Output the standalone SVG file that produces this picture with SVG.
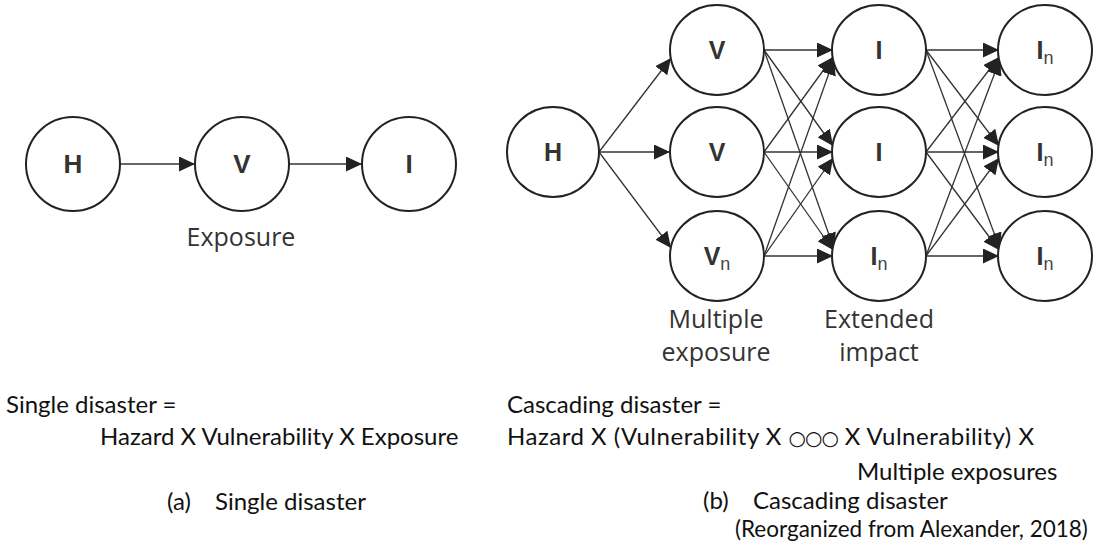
<svg xmlns="http://www.w3.org/2000/svg" width="1097" height="545" viewBox="0 0 1097 545">
  <style>
    .node { fill: #ffffff; stroke: #222222; stroke-width: 2; }
    .edge { stroke: #333333; stroke-width: 1.3; fill: none; marker-end: url(#arrow); }
    .sym { font-family: "Liberation Sans", Arial, sans-serif; font-weight: bold; font-size: 25px; fill: #333333; text-anchor: middle; }
    .big { font-size: 26px; }
    .sub { font-weight: normal; font-size: 18px; fill: #444444; }
    .lbl { font-family: "Open Sans", "Noto Sans", sans-serif; font-size: 25px; fill: #333333; text-anchor: middle; }
    .eq { font-family: Lato, "Liberation Sans", sans-serif; font-size: 24px; fill: #111111; }
    .note { font-family: Lato, "Liberation Sans", sans-serif; font-size: 22.5px; fill: #111111; }
    .ring { font-family: "DejaVu Sans", sans-serif; font-size: 20px; letter-spacing: -1.5px; }
  </style>
  <defs>
    <marker id="arrow" markerUnits="userSpaceOnUse" markerWidth="16" markerHeight="15" refX="16" refY="7.5" orient="auto">
      <path d="M0,0 L16,7.5 L0,15 z" fill="#222222"/>
    </marker>
  </defs>

  <rect width="1097" height="545" fill="#ffffff"/>

  <!-- connectors -->
  <g id="connectors">
    <!-- single chain -->
    <line class="edge" x1="120" y1="164" x2="195" y2="164"/>
    <line class="edge" x1="289" y1="164" x2="362" y2="164"/>
    <!-- hazard to vulnerabilities -->
    <line class="edge" x1="599" y1="152" x2="671" y2="58"/>
    <line class="edge" x1="599" y1="152" x2="670" y2="152"/>
    <line class="edge" x1="599" y1="152" x2="671" y2="248"/>
    <!-- vulnerabilities to impacts -->
    <line class="edge" x1="764" y1="50" x2="833" y2="50"/>
    <line class="edge" x1="764" y1="50" x2="833" y2="146"/>
    <line class="edge" x1="764" y1="50" x2="834" y2="249"/>
    <line class="edge" x1="764" y1="152" x2="833" y2="57"/>
    <line class="edge" x1="764" y1="152" x2="833" y2="152"/>
    <line class="edge" x1="764" y1="152" x2="833" y2="250"/>
    <line class="edge" x1="764" y1="256" x2="834" y2="59"/>
    <line class="edge" x1="764" y1="256" x2="833" y2="158"/>
    <line class="edge" x1="764" y1="256" x2="833" y2="256"/>
    <!-- impacts to extended impacts -->
    <line class="edge" x1="926" y1="50" x2="999" y2="50"/>
    <line class="edge" x1="926" y1="50" x2="999" y2="146"/>
    <line class="edge" x1="926" y1="50" x2="1000" y2="249"/>
    <line class="edge" x1="926" y1="152" x2="999" y2="57"/>
    <line class="edge" x1="926" y1="152" x2="999" y2="152"/>
    <line class="edge" x1="926" y1="152" x2="999" y2="250"/>
    <line class="edge" x1="926" y1="256" x2="1000" y2="59"/>
    <line class="edge" x1="926" y1="256" x2="999" y2="158"/>
    <line class="edge" x1="926" y1="256" x2="999" y2="256"/>
  </g>

  <!-- single disaster nodes -->
  <g id="s-hazard">
    <circle class="node" cx="73" cy="164" r="47"/>
    <text class="sym big" x="73" y="173">H</text>
  </g>
  <g id="s-vulnerability">
    <circle class="node" cx="242" cy="164" r="47"/>
    <text class="sym big" x="242" y="173">V</text>
  </g>
  <g id="s-impact">
    <circle class="node" cx="409" cy="164" r="47"/>
    <text class="sym big" x="409" y="173">I</text>
  </g>

  <!-- cascading disaster nodes -->
  <g id="c-hazard">
    <ellipse class="node" cx="553" cy="152" rx="46" ry="45"/>
    <text class="sym" x="553" y="161">H</text>
  </g>
  <g id="c-vuln-1">
    <ellipse class="node" cx="717" cy="50" rx="47" ry="45"/>
    <text class="sym" x="717" y="59">V</text>
  </g>
  <g id="c-vuln-2">
    <ellipse class="node" cx="717" cy="152" rx="47" ry="45"/>
    <text class="sym" x="717" y="161">V</text>
  </g>
  <g id="c-vuln-n">
    <ellipse class="node" cx="717" cy="256" rx="47" ry="45"/>
    <text class="sym" x="717" y="265">V<tspan class="sub" dy="5">n</tspan></text>
  </g>
  <g id="c-impact-1">
    <ellipse class="node" cx="879" cy="50" rx="47" ry="45"/>
    <text class="sym" x="879" y="59">I</text>
  </g>
  <g id="c-impact-2">
    <ellipse class="node" cx="879" cy="152" rx="47" ry="45"/>
    <text class="sym" x="879" y="161">I</text>
  </g>
  <g id="c-impact-n">
    <ellipse class="node" cx="879" cy="256" rx="47" ry="45"/>
    <text class="sym" x="879" y="265">I<tspan class="sub" dy="5">n</tspan></text>
  </g>
  <g id="c-ext-1">
    <ellipse class="node" cx="1045" cy="50" rx="47" ry="45"/>
    <text class="sym" x="1045" y="59">I<tspan class="sub" dy="5">n</tspan></text>
  </g>
  <g id="c-ext-2">
    <ellipse class="node" cx="1045" cy="152" rx="47" ry="45"/>
    <text class="sym" x="1045" y="161">I<tspan class="sub" dy="5">n</tspan></text>
  </g>
  <g id="c-ext-3">
    <ellipse class="node" cx="1045" cy="256" rx="47" ry="45"/>
    <text class="sym" x="1045" y="265">I<tspan class="sub" dy="5">n</tspan></text>
  </g>

  <!-- stage labels -->
  <g id="labels">
    <text class="lbl" x="241" y="246">Exposure</text>
    <text class="lbl" x="716" y="328">Multiple</text>
    <text class="lbl" x="716" y="361">exposure</text>
    <text class="lbl" x="879" y="328">Extended</text>
    <text class="lbl" x="879" y="361">impact</text>
  </g>

  <!-- formulas and captions -->
  <g id="formulas">
    <text class="eq" x="6" y="413">Single disaster =</text>
    <text class="eq" x="100" y="445">Hazard X Vulnerability X Exposure</text>
    <text class="eq" x="167" y="510">(a)</text>
    <text class="eq" x="215" y="510">Single disaster</text>

    <text class="eq" x="507" y="413">Cascading disaster =</text>
    <text class="eq" x="507" y="445" textLength="527" lengthAdjust="spacing">Hazard X (Vulnerability X <tspan class="ring">○○○</tspan> X Vulnerability) X</text>
    <text class="eq" x="857" y="480">Multiple exposures</text>
    <text class="eq" x="703" y="509">(b)</text>
    <text class="eq" x="753" y="509">Cascading disaster</text>
    <text class="note" x="735" y="537">(Reorganized from Alexander, 2018)</text>
  </g>
</svg>
